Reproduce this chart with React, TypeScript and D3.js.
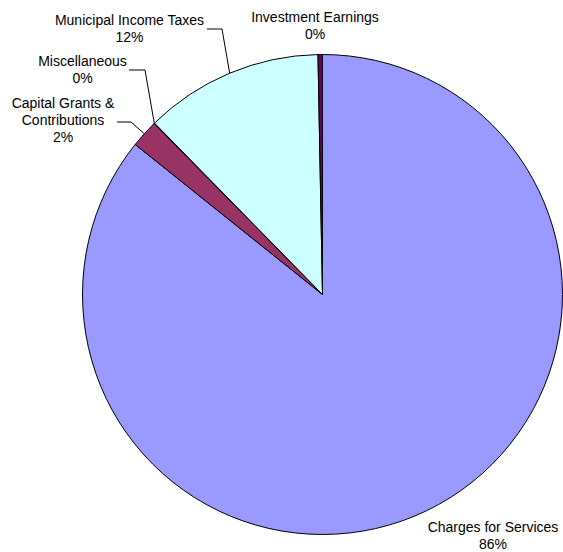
import React from 'react';
import * as d3 from 'd3';

// slices in drawing order, clockwise from 12 o'clock
const categories = [
  'Charges for Services',
  'Capital Grants & Contributions',
  'Miscellaneous',
  'Municipal Income Taxes',
  'Investment Earnings',
];
const shares = [85.75, 1.87, 0.04, 12.04, 0.3];
const labelLines = [
  ['Charges for Services'],
  ['Capital Grants &', 'Contributions'],
  ['Miscellaneous'],
  ['Municipal Income Taxes'],
  ['Investment Earnings'],
];

const colors = ['#9999FF', '#993366', '#FFFFCC', '#CCFFFF', '#660066'];

// label anchor (center x, first baseline) and leader elbow, as placed in the original
const labelLayout = [
  { x: 493, y: 532, leader: null },
  { x: 63, y: 108, leader: [[117, 122], [131, 122]] },
  { x: 82.5, y: 66, leader: [[129, 70], [145, 70]] },
  { x: 129.5, y: 25, leader: [[207, 29], [222, 29]] },
  { x: 315, y: 22, leader: null },
];

const width = 563;
const height = 552;
const cx = 322.5;
const cy = 294.5;
const radius = 240;
const lineHeight = 17;

export default function App() {
  const pie = d3
    .pie<number>()
    .sort(null)
    .value((d) => d);
  const arcs = pie(shares);
  const total = d3.sum(shares);

  const arc = d3.arc<d3.PieArcDatum<number>>().innerRadius(0).outerRadius(radius);

  return (
    <svg
      width={width}
      height={height}
      style={{ position: 'absolute', left: 0, top: 0, background: '#fff' }}
      fontFamily="'Liberation Sans', Arial, sans-serif"
      fontSize={14}
    >
      <g transform={`translate(${cx}, ${cy})`}>
        {arcs.map((a, i) => (
          <path
            key={categories[i]}
            d={arc(a) || ''}
            fill={colors[i]}
            stroke="#000"
            strokeWidth={1}
            strokeLinejoin="round"
          />
        ))}
      </g>
      {arcs.map((a, i) => {
        const lay = labelLayout[i];
        const pct = Math.round((shares[i] / total) * 100) + '%';
        const lines = [...labelLines[i], pct];
        let leader = null;
        if (lay.leader) {
          const ang = (a.startAngle + a.endAngle) / 2;
          const px = cx + radius * Math.sin(ang);
          const py = cy - radius * Math.cos(ang);
          const pts = [...lay.leader, [px, py]];
          leader = (
            <polyline
              points={pts.map((p) => p.join(',')).join(' ')}
              fill="none"
              stroke="#000"
              strokeWidth={1}
            />
          );
        }
        return (
          <g key={categories[i]}>
            {leader}
            <text textAnchor="middle" fill="#000">
              {lines.map((t, j) => (
                <tspan key={j} x={lay.x} y={lay.y + j * lineHeight}>
                  {t}
                </tspan>
              ))}
            </text>
          </g>
        );
      })}
    </svg>
  );
}
